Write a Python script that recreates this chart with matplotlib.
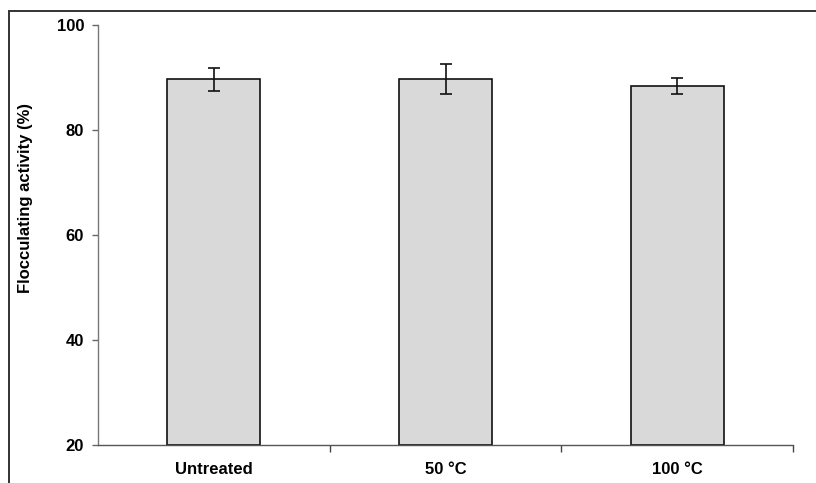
import matplotlib
matplotlib.use("Agg")
import matplotlib.pyplot as plt
from matplotlib.patches import Rectangle

categories = ["Untreated", "50 °C", "100 °C"]
values = [89.7, 89.7, 88.4]
errors = [2.2, 2.8, 1.6]
yticks = [20, 40, 60, 80, 100]

plt.rcParams['font.family'] = ['Liberation Sans', 'DejaVu Sans']

fig = plt.figure(figsize=(8.16, 4.83), dpi=100)
ax = fig.add_axes([98/816, 38/483, 695/816, 420/483])

x = list(range(len(categories)))
ax.bar(x, [v - 20 for v in values], bottom=20, width=0.4, color='#d9d9d9',
       edgecolor='#111111', linewidth=1.2, zorder=2)
ax.errorbar(x, values, yerr=errors, fmt='none', ecolor='#111111',
            elinewidth=1.2, capsize=4, capthick=1.2, zorder=3)

ax.set_xlim(-0.5, 2.5)
ax.set_ylim(20, 100)
ax.set_yticks(yticks)
ax.set_yticklabels([str(t) for t in yticks], fontsize=12, fontweight='bold')
ax.set_xticks(x)
ax.set_xticklabels(categories, fontsize=12, fontweight='bold')
ax.tick_params(axis='x', length=0, pad=12)
ax.set_xticks([0.5, 1.5, 2.5], minor=True)
ax.tick_params(axis='x', which='minor', length=5, width=1, color='#444444', direction='out')
ax.tick_params(axis='y', length=4, width=1, color='#666666', direction='out', pad=6)

for s in ['top', 'right']:
    ax.spines[s].set_visible(False)
ax.spines['left'].set_color('#777777')
ax.spines['bottom'].set_color('#555555')
ax.spines['left'].set_linewidth(1)
ax.spines['bottom'].set_linewidth(1)

ax.set_ylabel("Flocculating activity (%)", fontsize=12, fontweight='bold')
ax.yaxis.set_label_coords(-0.094, 0.588)

frame = Rectangle((8.5/816, -0.2), 1.2, 1.2 - 11/483, transform=fig.transFigure,
                  fill=False, edgecolor='#333333', linewidth=1.4, clip_on=False)
fig.patches.append(frame)

fig.savefig("out.png", dpi=100)
